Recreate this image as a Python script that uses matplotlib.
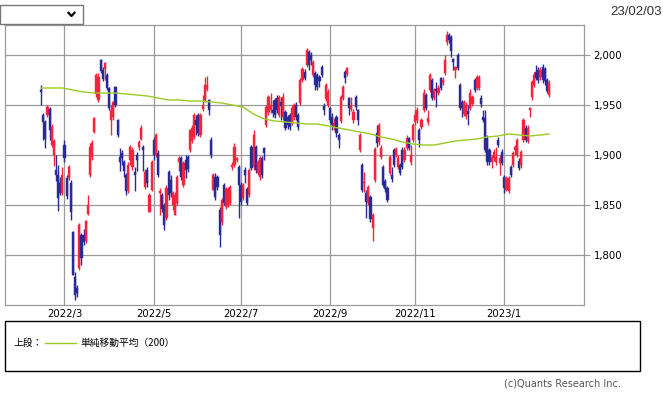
import numpy as np
import pandas as pd
import matplotlib
matplotlib.use("Agg")
import matplotlib.pyplot as plt
from matplotlib.patches import Rectangle
from matplotlib.lines import Line2D

# daily OHLC, 2022/02/10 - 2023/02/03 (TSE sessions)
opens = [1965, 1940, 1933, 1940, 1946, 1910, 1900, 1885, 1880, 1872,
         1862, 1910, 1877, 1877, 1872, 1823, 1778, 1767, 1787, 1820,
         1820, 1814, 1841, 1880, 1898, 1923, 1961, 1955, 1995, 1985,
         1986, 1980, 1967, 1935, 1938, 1968, 1935, 1898, 1902, 1893,
         1880, 1864, 1895, 1888, 1883, 1900, 1908, 1916, 1908, 1868,
         1885, 1843, 1865, 1915, 1900, 1902, 1862, 1860, 1850, 1837,
         1883, 1875, 1850, 1840, 1852, 1893, 1897, 1870, 1895, 1898,
         1905, 1914, 1918, 1935, 1940, 1920, 1946, 1955, 1966, 1955,
         1915, 1865, 1878, 1878, 1845, 1833, 1870, 1848, 1850, 1852,
         1888, 1890, 1895, 1888, 1870, 1857, 1885, 1866, 1860, 1908,
         1888, 1908, 1882, 1878, 1897, 1907, 1930, 1943, 1945, 1945,
         1955, 1957, 1940, 1953, 1938, 1943, 1938, 1940, 1932, 1938,
         1950, 1940, 1952, 1975, 1983, 1990, 2003, 2000, 1980, 1982,
         1980, 1978, 1988, 1949, 1956, 1950, 1947, 1938, 1928, 1938,
         1920, 1934, 1957, 1983, 1981, 1957, 1946, 1935, 1958, 1945,
         1905, 1890, 1872, 1862, 1852, 1858, 1827, 1875, 1922, 1913,
         1898, 1888, 1874, 1867, 1882, 1880, 1905, 1900, 1888, 1890,
         1905, 1895, 1907, 1917, 1893, 1915, 1933, 1935, 1925, 1928,
         1945, 1960, 1933, 1965, 1975, 1957, 1966, 1962, 1977, 1972,
         1982, 2013, 2020, 2018, 1996, 1985, 2000, 1970, 1953, 1941,
         1939, 1944, 1947, 1951, 1975, 1967, 1967, 1957, 1938, 1937,
         1917, 1905, 1893, 1897, 1893, 1915, 1892, 1903, 1878, 1865,
         1864, 1888, 1890, 1905, 1900, 1894, 1890, 1915, 1927, 1914,
         1945, 1958, 1970, 1983, 1985, 1978, 1988, 1986, 1975, 1960]

highs = [1970, 1942, 1935, 1950, 1948, 1931, 1916, 1900, 1890, 1878,
         1888, 1915, 1880, 1890, 1875, 1824, 1783, 1770, 1832, 1822,
         1826, 1835, 1860, 1912, 1915, 1938, 1982, 1982, 1996, 1988,
         1993, 1982, 1968, 1950, 1954, 1969, 1936, 1907, 1905, 1895,
         1882, 1893, 1910, 1908, 1888, 1903, 1915, 1930, 1910, 1886,
         1888, 1862, 1895, 1918, 1922, 1905, 1867, 1862, 1852, 1870,
         1885, 1880, 1864, 1863, 1880, 1899, 1899, 1894, 1900, 1900,
         1926, 1930, 1942, 1940, 1942, 1942, 1960, 1978, 1979, 1956,
         1918, 1882, 1882, 1880, 1848, 1857, 1872, 1868, 1868, 1870,
         1893, 1912, 1898, 1890, 1873, 1872, 1888, 1868, 1887, 1910,
         1925, 1910, 1895, 1899, 1899, 1908, 1950, 1960, 1962, 1955,
         1957, 1960, 1960, 1958, 1962, 1945, 1940, 1942, 1950, 1952,
         1953, 1942, 1977, 1988, 1986, 2007, 2005, 2003, 1995, 1984,
         1982, 1980, 1990, 1952, 1972, 1966, 1948, 1942, 1937, 1940,
         1922, 1960, 1970, 1985, 1988, 1958, 1958, 1946, 1960, 1946,
         1922, 1892, 1883, 1865, 1870, 1860, 1842, 1908, 1930, 1932,
         1910, 1890, 1876, 1869, 1900, 1888, 1907, 1908, 1900, 1892,
         1908, 1908, 1920, 1918, 1910, 1932, 1945, 1948, 1927, 1937,
         1966, 1962, 1945, 1982, 1977, 1967, 1973, 1970, 1978, 1978,
         2000, 2024, 2022, 2020, 1997, 1989, 2002, 1972, 1955, 1955,
         1953, 1950, 1966, 1960, 1977, 1980, 1980, 1960, 1945, 1945,
         1920, 1907, 1900, 1906, 1908, 1918, 1900, 1906, 1880, 1879,
         1879, 1890, 1904, 1910, 1917, 1897, 1905, 1937, 1930, 1930,
         1948, 1975, 1983, 1990, 1988, 1988, 1991, 1988, 1977, 1975]

lows = [1950, 1915, 1907, 1938, 1915, 1908, 1889, 1874, 1844, 1860,
        1860, 1893, 1856, 1875, 1835, 1780, 1755, 1758, 1785, 1790,
        1810, 1812, 1840, 1878, 1895, 1922, 1958, 1953, 1982, 1974,
        1975, 1965, 1945, 1920, 1935, 1948, 1918, 1884, 1890, 1878,
        1860, 1862, 1890, 1885, 1864, 1884, 1905, 1915, 1884, 1866,
        1868, 1843, 1864, 1895, 1898, 1878, 1840, 1843, 1825, 1835,
        1855, 1858, 1845, 1840, 1850, 1884, 1875, 1868, 1877, 1883,
        1903, 1912, 1916, 1920, 1919, 1918, 1944, 1953, 1964, 1940,
        1897, 1865, 1855, 1865, 1808, 1830, 1850, 1846, 1848, 1850,
        1885, 1888, 1893, 1837, 1850, 1855, 1872, 1850, 1858, 1885,
        1885, 1882, 1880, 1875, 1877, 1895, 1928, 1940, 1942, 1938,
        1937, 1942, 1938, 1935, 1935, 1925, 1926, 1925, 1930, 1935,
        1935, 1925, 1950, 1973, 1975, 1988, 1985, 1990, 1978, 1965,
        1965, 1968, 1978, 1940, 1954, 1948, 1932, 1925, 1925, 1918,
        1907, 1932, 1955, 1972, 1979, 1940, 1944, 1932, 1945, 1930,
        1903, 1863, 1863, 1837, 1850, 1833, 1814, 1873, 1908, 1910,
        1896, 1868, 1863, 1853, 1880, 1873, 1888, 1898, 1886, 1880,
        1886, 1893, 1905, 1905, 1890, 1913, 1930, 1932, 1908, 1926,
        1943, 1945, 1930, 1963, 1955, 1955, 1948, 1960, 1965, 1970,
        1980, 2010, 2012, 1998, 1985, 1977, 1985, 1945, 1938, 1939,
        1936, 1930, 1945, 1949, 1963, 1965, 1965, 1948, 1933, 1903,
        1890, 1890, 1887, 1894, 1890, 1908, 1880, 1890, 1862, 1864,
        1862, 1878, 1888, 1900, 1898, 1885, 1887, 1913, 1913, 1912,
        1938, 1955, 1968, 1975, 1972, 1975, 1972, 1970, 1962, 1958]

closes = [1963, 1933, 1916, 1948, 1925, 1928, 1914, 1880, 1857, 1862,
          1880, 1897, 1859, 1888, 1843, 1780, 1760, 1762, 1830, 1797,
          1813, 1834, 1850, 1908, 1912, 1937, 1980, 1978, 1984, 1976,
          1992, 1967, 1947, 1945, 1953, 1950, 1920, 1893, 1897, 1884,
          1864, 1890, 1908, 1905, 1880, 1895, 1913, 1927, 1905, 1883,
          1872, 1860, 1893, 1900, 1920, 1880, 1864, 1846, 1830, 1867,
          1860, 1862, 1862, 1860, 1878, 1897, 1878, 1892, 1885, 1886,
          1925, 1927, 1940, 1930, 1922, 1940, 1950, 1970, 1970, 1945,
          1900, 1880, 1858, 1868, 1820, 1855, 1852, 1866, 1866, 1868,
          1890, 1908, 1897, 1870, 1853, 1870, 1880, 1852, 1885, 1887,
          1920, 1885, 1893, 1897, 1880, 1902, 1948, 1958, 1950, 1942,
          1940, 1945, 1958, 1949, 1958, 1927, 1930, 1928, 1947, 1950,
          1938, 1928, 1975, 1986, 1977, 2005, 1990, 1995, 1993, 1970,
          1968, 1974, 1980, 1945, 1970, 1963, 1935, 1930, 1932, 1922,
          1915, 1958, 1968, 1977, 1987, 1947, 1950, 1943, 1948, 1935,
          1920, 1865, 1873, 1853, 1868, 1836, 1840, 1906, 1912, 1930,
          1907, 1870, 1866, 1855, 1898, 1876, 1890, 1906, 1897, 1882,
          1888, 1905, 1917, 1907, 1900, 1930, 1940, 1945, 1915, 1935,
          1962, 1947, 1937, 1980, 1957, 1965, 1964, 1967, 1967, 1975,
          1995, 2020, 2015, 2004, 1993, 1988, 1987, 1947, 1947, 1953,
          1950, 1941, 1962, 1958, 1965, 1978, 1978, 1951, 1935, 1905,
          1893, 1893, 1898, 1903, 1898, 1910, 1897, 1892, 1867, 1877,
          1877, 1880, 1902, 1908, 1915, 1887, 1903, 1935, 1915, 1927,
          1947, 1973, 1980, 1977, 1975, 1985, 1975, 1974, 1964, 1972]

# 200-day simple moving average, read every 5th session (+ last)
ma_sessions = list(range(0, 240, 5)) + [239]
ma200 = [1967, 1967, 1967, 1965, 1963, 1962, 1962, 1962, 1961, 1960,
         1959, 1957, 1955, 1955, 1954, 1954, 1953, 1952, 1950, 1948,
         1941, 1936, 1934, 1933, 1932, 1931, 1931, 1929, 1927, 1925,
         1923, 1921, 1918, 1916, 1913, 1911, 1910, 1910, 1912, 1914,
         1915, 1916, 1918, 1919, 1921, 1920, 1919, 1920, 1921]

jp_holidays = ['2022-02-11', '2022-02-23', '2022-03-21', '2022-04-29',
               '2022-05-03', '2022-05-04', '2022-05-05', '2022-07-18',
               '2022-08-11', '2022-09-19', '2022-09-23', '2022-10-10',
               '2022-11-03', '2022-11-23', '2023-01-02', '2023-01-03',
               '2023-01-09']
tick_months = ['2022-03', '2022-05', '2022-07', '2022-09', '2022-11', '2023-01']
y_ticks = [1800, 1850, 1900, 1950, 2000]
chart_date = '23/02/03'
legend_label = '単純移動平均（200）'

W, H = 663, 393
UP = '#f5243c'
DOWN = '#2a2a96'
GRID = '#9a9a9a'


def fx(px):
    return px / W


def fy(py):
    return 1 - py / H


days = pd.bdate_range('2022-02-10', '2023-02-03', freq='C', holidays=jp_holidays)
n = len(closes)
days = days[:n]
x = np.arange(n)

fig = plt.figure(figsize=(W / 100, H / 100), dpi=100)
ax = fig.add_axes([fx(5), fy(305), (584 - 5) / W, (305 - 25) / H])

o = np.array(opens)
c = np.array(closes)
hi = np.array(highs)
lo = np.array(lows)
cols = np.where(c >= o, UP, DOWN)

ax.vlines(x, lo, hi, colors=cols, lw=1.0, zorder=3)
body = np.maximum(np.abs(c - o), 1.5)
ax.bar(x, body, bottom=np.minimum(o, c), width=1.0, color=cols, ec=cols, lw=0.3, zorder=3)

ax.plot(ma_sessions, ma200, color='#99cc22', lw=1.0, zorder=4)

# month ticks at first session of the month
mpos = []
mlab = []
for m in tick_months:
    per = pd.Period(m)
    idx = [i for i, d in enumerate(days) if d.year == per.year and d.month == per.month][0]
    mpos.append(idx)
    mlab.append(f"{per.year}/{per.month}")

ax.set_xlim(-17, 255.5)
ax.set_ylim(1750, 2030)
ax.set_xticks(mpos)
ax.set_xticklabels(mlab)
ax.set_yticks(y_ticks)
ax.set_yticklabels([f"{v:,}" for v in y_ticks])
ax.grid(True, color=GRID, lw=0.9, zorder=0)
ax.set_axisbelow(True)
ax.tick_params(axis='x', length=0, pad=3, labelsize=7.3)
ax.tick_params(axis='y', left=False, labelleft=False, right=True, labelright=True,
               length=4.5, width=0.8, color=GRID, pad=2.5, labelsize=7.3)
for s in ax.spines.values():
    s.set_color(GRID)
    s.set_linewidth(0.9)

# dropdown box at the top left
fig.patches.append(Rectangle((fx(0), fy(24)), 82.7 / W, 19 / H, transform=fig.transFigure,
                             fill=False, ec='#777777', lw=1.0))
fig.lines.append(Line2D([fx(68.5), fx(71.5), fx(74.5)], [fy(12.8), fy(16), fy(12.8)],
                        transform=fig.transFigure, color='black', lw=1.6))
fig.text(fx(662), fy(12), chart_date, ha='right', va='center', fontsize=9.5,
         family='Liberation Sans', color='#333333')

# legend panel
fig.patches.append(Rectangle((fx(5.3), fy(371)), (640 - 5.3) / W, (371 - 320.7) / H,
                             transform=fig.transFigure, fill=False, ec='black', lw=1.0))
jp = ['Noto Sans CJK JP', 'DejaVu Sans']
fig.text(fx(13), fy(343), '上段：', family=jp, fontsize=7, va='center')
fig.lines.append(Line2D([fx(45), fx(76)], [fy(343), fy(343)], transform=fig.transFigure,
                        color='#99cc22', lw=1.0))
fig.text(fx(80), fy(343), legend_label, family=jp, fontsize=7, va='center')

fig.text(fx(621), fy(383), '(c)Quants Research Inc.', ha='right', va='center',
         fontsize=7, color='#555555')

fig.savefig('out.png', dpi=100)
